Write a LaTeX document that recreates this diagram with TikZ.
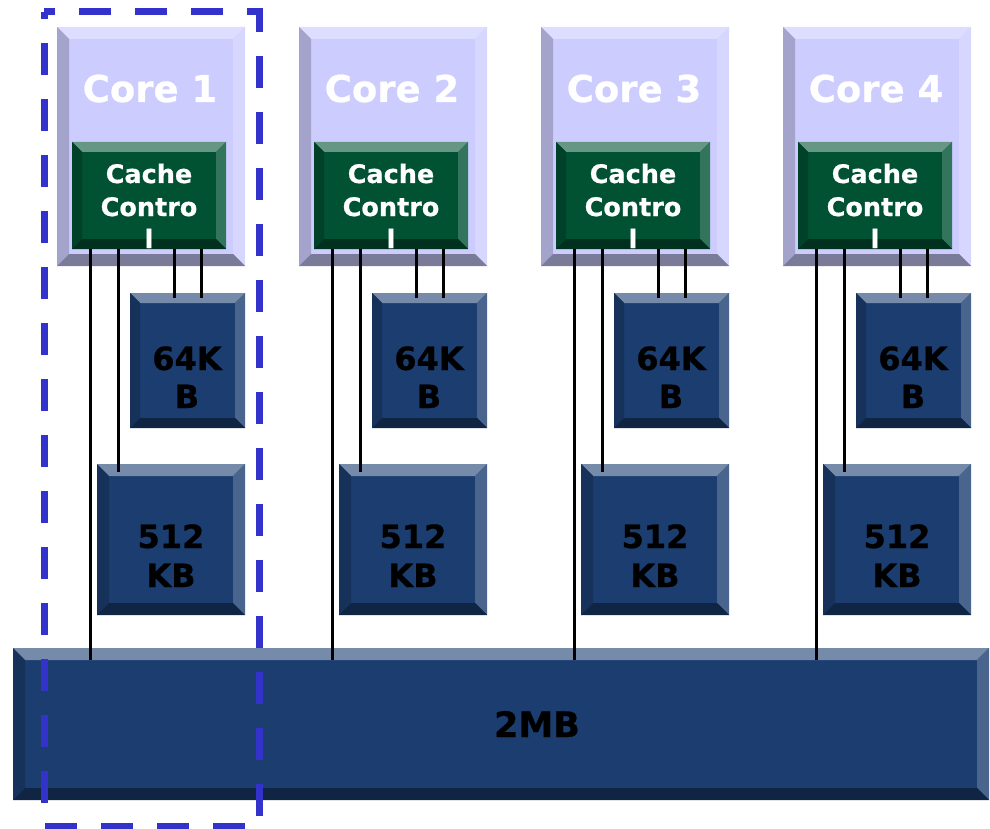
\documentclass[tikz,border=0pt]{standalone}
\usepackage{fontspec}
\setmainfont{DejaVu Sans}
\newfontfamily\heavyfont{DejaVu Sans Bold}[FakeBold=0.7]
\usetikzlibrary{calc}

% face / top / left / right / bottom shades of the three bevelled box kinds
\definecolor{coreface}{RGB}{204,204,255}
\definecolor{coretop}{RGB}{221,221,255}
\definecolor{coreleft}{RGB}{163,163,204}
\definecolor{coreright}{RGB}{214,214,255}
\definecolor{corebot}{RGB}{122,122,153}
\definecolor{ccface}{RGB}{0,82,51}
\definecolor{cctop}{RGB}{102,151,133}
\definecolor{ccleft}{RGB}{0,66,41}
\definecolor{ccright}{RGB}{51,117,92}
\definecolor{ccbot}{RGB}{0,49,31}
\definecolor{memface}{RGB}{27,61,112}
\definecolor{memtop}{RGB}{118,139,169}
\definecolor{memleft}{RGB}{22,49,90}
\definecolor{memright}{RGB}{73,100,141}
\definecolor{membot}{RGB}{16,37,67}
\definecolor{dashblue}{RGB}{51,51,204}

\tikzset{
  % #1 bevel width, #2 face, #3 top, #4 left, #5 right, #6 bottom
  bevelbox/.style n args={6}{rectangle, inner sep=0pt, outer sep=0pt, fill=#2,
    anchor=north west,
    path picture={
      \path (path picture bounding box.north west) coordinate (bnw)
            (path picture bounding box.north east) coordinate (bne)
            (path picture bounding box.south west) coordinate (bsw)
            (path picture bounding box.south east) coordinate (bse);
      \path ([shift={(#1,-#1)}]bnw) coordinate (inw)
            ([shift={(-#1,-#1)}]bne) coordinate (ine)
            ([shift={(#1,#1)}]bsw) coordinate (isw)
            ([shift={(-#1,#1)}]bse) coordinate (ise);
      \fill[#3] (bnw) -- (bne) -- (ine) -- (inw) -- cycle;
      \fill[#4] (bnw) -- (inw) -- (isw) -- (bsw) -- cycle;
      \fill[#5] (bne) -- (bse) -- (ise) -- (ine) -- cycle;
      \fill[#6] (bsw) -- (bse) -- (ise) -- (isw) -- cycle;
    }},
  corebox/.style={bevelbox={12pt}{coreface}{coretop}{coreleft}{coreright}{corebot},
    minimum width=188pt, minimum height=239pt},
  ccbox/.style={bevelbox={10pt}{ccface}{cctop}{ccleft}{ccright}{ccbot},
    minimum width=154pt, minimum height=107pt},
  smallmem/.style={bevelbox={10pt}{memface}{memtop}{memleft}{memright}{membot},
    minimum width=115pt, minimum height=135pt},
  midmem/.style={bevelbox={12pt}{memface}{memtop}{memleft}{memright}{membot},
    minimum width=148pt, minimum height=151pt},
  bigmem/.style={bevelbox={12pt}{memface}{memtop}{memleft}{memright}{membot},
    minimum width=976pt, minimum height=152pt},
  corelabel/.style={anchor=base, inner sep=0pt, text=white,
    font=\heavyfont\fontsize{37}{37}\selectfont},
  cclabel/.style={anchor=base, inner sep=0pt, text=white,
    font=\heavyfont\fontsize{25.5}{25.5}\selectfont},
  memlabel/.style={anchor=base, inner sep=0pt, text=black,
    font=\heavyfont\fontsize{32}{32}\selectfont},
  biglabel/.style={anchor=base, inner sep=0pt, text=black,
    font=\heavyfont\fontsize{35}{35}\selectfont},
  wire/.style={draw=black, line width=3pt},
  groupframe/.style={draw=dashblue, line width=7pt, dash pattern=on 32pt off 24pt,
    dash phase=21pt}
}

\begin{document}
\begin{tikzpicture}[x=1pt, y=-1pt]
\useasboundingbox (0,0) rectangle (990,829);

% shared 2MB cache
\node[bigmem] (l3) at (13,648) {};
\node[biglabel] (l3text) at (537,737) {2MB};

\foreach \i in {1,...,4} {
  \pgfmathsetmacro{\dx}{242*(\i-1)}
  % core with its cache controller and private caches
  \node[corebox] (core\i) at (57+\dx,27) {};
  \node[ccbox] (cc\i) at (72+\dx,142) {};
  \node[smallmem] (l1\i) at (130+\dx,293) {};
  \node[midmem] (l2\i) at (97+\dx,464) {};

  % links from the cache controller
  \coordinate (wa\i) at ([xshift=18pt]cc\i.south west);
  \coordinate (wb\i) at ([xshift=46pt]cc\i.south west);
  \coordinate (wc\i) at ([xshift=102pt]cc\i.south west);
  \coordinate (wd\i) at ([xshift=129pt]cc\i.south west);
  \draw[wire, shorten >=-12pt] (wa\i) -- (wa\i |- l3.north);
  \draw[wire, shorten >=-8pt] (wb\i) -- (wb\i |- l2\i.north);
  \draw[wire, shorten >=-5pt] (wc\i) -- (wc\i |- l1\i.north);
  \draw[wire, shorten >=-5pt] (wd\i) -- (wd\i |- l1\i.north);

  % labels
  \node[corelabel] (corename\i) at (150+\dx,102) {Core \i};
  \node[cclabel] (cca\i) at (149+\dx,183) {Cache};
  \node[cclabel] (ccb\i) at (149+\dx,216) {Contro};
  \node[cclabel] (ccc\i) at (149+\dx,248) {l};
  \node[memlabel] (l1a\i) at (187+\dx,370) {64K};
  \node[memlabel] (l1b\i) at (187+\dx,408) {B};
  \node[memlabel] (l2a\i) at (171+\dx,548) {512};
  \node[memlabel] (l2b\i) at (171+\dx,587) {KB};
}

% dashed outline around the first core
\draw[groupframe] (44,12) -- (259,12) -- (259,826) -- (44,826) -- cycle;
\end{tikzpicture}
\end{document}
